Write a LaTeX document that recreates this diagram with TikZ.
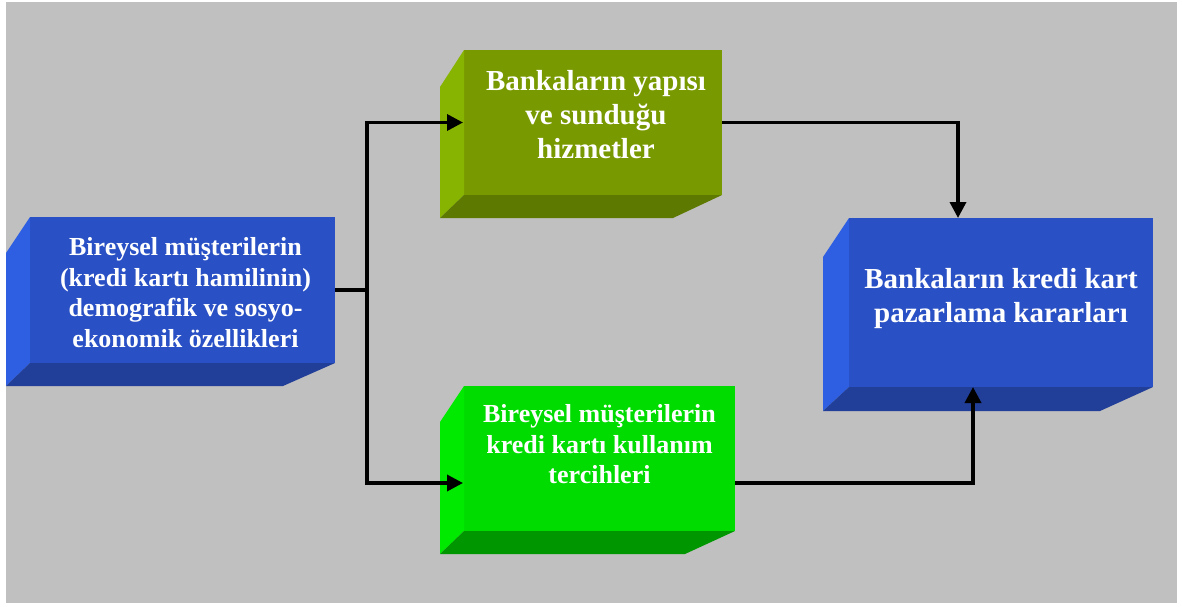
\documentclass[tikz,border=0pt]{standalone}
\usepackage{fontspec}
\setmainfont{Liberation Serif}
\usetikzlibrary{arrows.meta,calc}

\definecolor{blueF}{RGB}{41,80,196}
\definecolor{blueL}{RGB}{46,94,226}
\definecolor{blueB}{RGB}{33,62,152}
\definecolor{oliveF}{RGB}{121,153,0}
\definecolor{oliveL}{RGB}{135,180,0}
\definecolor{oliveB}{RGB}{94,121,0}
\definecolor{greenF}{RGB}{0,220,0}
\definecolor{greenL}{RGB}{0,234,0}
\definecolor{greenB}{RGB}{0,150,0}
\definecolor{panel}{RGB}{192,192,192}

% left and bottom faces of a bevelled block
% #1 front node, #2 left colour, #3 bottom colour, #4 depth x, #5 depth y,
% #6 drop of the left face's top corner, #7 inset of the bottom face's right corner
\newcommand\bevelsides[7]{%
  \fill[#2] (#1.north west) -- ++(-#4,#6) -- ($(#1.south west)+(-#4,#5)$)
            -- (#1.south west) -- cycle;
  \fill[#3] (#1.south west) -- (#1.south east) -- ($(#1.south east)+(-#7,#5)$)
            -- ($(#1.south west)+(-#4,#5)$) -- cycle;
}

\begin{document}
\begin{tikzpicture}[x=1pt,y=-1pt,
  front/.style={rectangle,draw=none,inner sep=0pt,outer sep=0pt},
  label/.style={text=white,align=center,inner sep=0pt,font=\bfseries},
  small/.style={label,font=\fontsize{26}{30.5}\selectfont\bfseries},
  large/.style={label,font=\fontsize{29}{34}\selectfont\bfseries},
  wire/.style={line width=3.5pt,black},
  conn/.style={wire,-{Triangle[length=16pt,width=16pt]}}]

\useasboundingbox (0,0) rectangle (1182,607);
\fill[white] (0,0) rectangle (1182,607);
\fill[panel] (6,2) rectangle (1177,603);

% front faces
\node[front,fill=blueF,minimum width=305pt,minimum height=146pt] (b1) at (182.5,290) {};
\node[front,fill=oliveF,minimum width=258pt,minimum height=145pt] (b2) at (593,122.5) {};
\node[front,fill=greenF,minimum width=271pt,minimum height=145pt] (b3) at (599.5,458.5) {};
\node[front,fill=blueF,minimum width=304pt,minimum height=169pt] (b4) at (1001,302.5) {};

% side faces
\bevelsides{b1}{blueL}{blueB}{24}{23}{36}{52}
\bevelsides{b2}{oliveL}{oliveB}{24}{23}{37}{49}
\bevelsides{b3}{greenL}{greenB}{24}{23}{36}{50}
\bevelsides{b4}{blueL}{blueB}{26}{24}{39}{53}

% texts
\node[small] (t1) at ($(b1)+(3,2.5)$) {Bireysel müşterilerin\\(kredi kartı hamilinin)\\demografik ve sosyo-\\ekonomik özellikleri};
\node[large] (t2) at ($(b2)+(3,-8)$) {Bankaların yapısı\\ve sunduğu\\hizmetler};
\node[small] (t3) at ($(b3)+(0,-14)$) {Bireysel müşterilerin\\kredi kartı kullanım\\tercihleri};
\node[large] (t4) at ($(b4)+(0,-4)$) {Bankaların kredi kart\\pazarlama kararları};

% connectors
\coordinate (jn) at ($(b1.east)+(32,0)$);
\coordinate (in2) at ($(b2.west)+(-1,0)$);
\coordinate (in3) at ($(b3.west)+(-1,24.5)$);
\coordinate (out3) at ($(b3.east)+(0,24.5)$);
\coordinate (top4) at ($(b4.north west)+(109,0)$);
\coordinate (bot4) at ($(b4.south west)+(124,0)$);

\draw[wire] (b1.east) -- (jn);
\draw[conn] (jn) |- (in2);
\draw[conn] (jn) |- (in3);
\draw[conn] (b2.east) -| (top4);
\draw[conn] (out3) -| (bot4);
\end{tikzpicture}
\end{document}
